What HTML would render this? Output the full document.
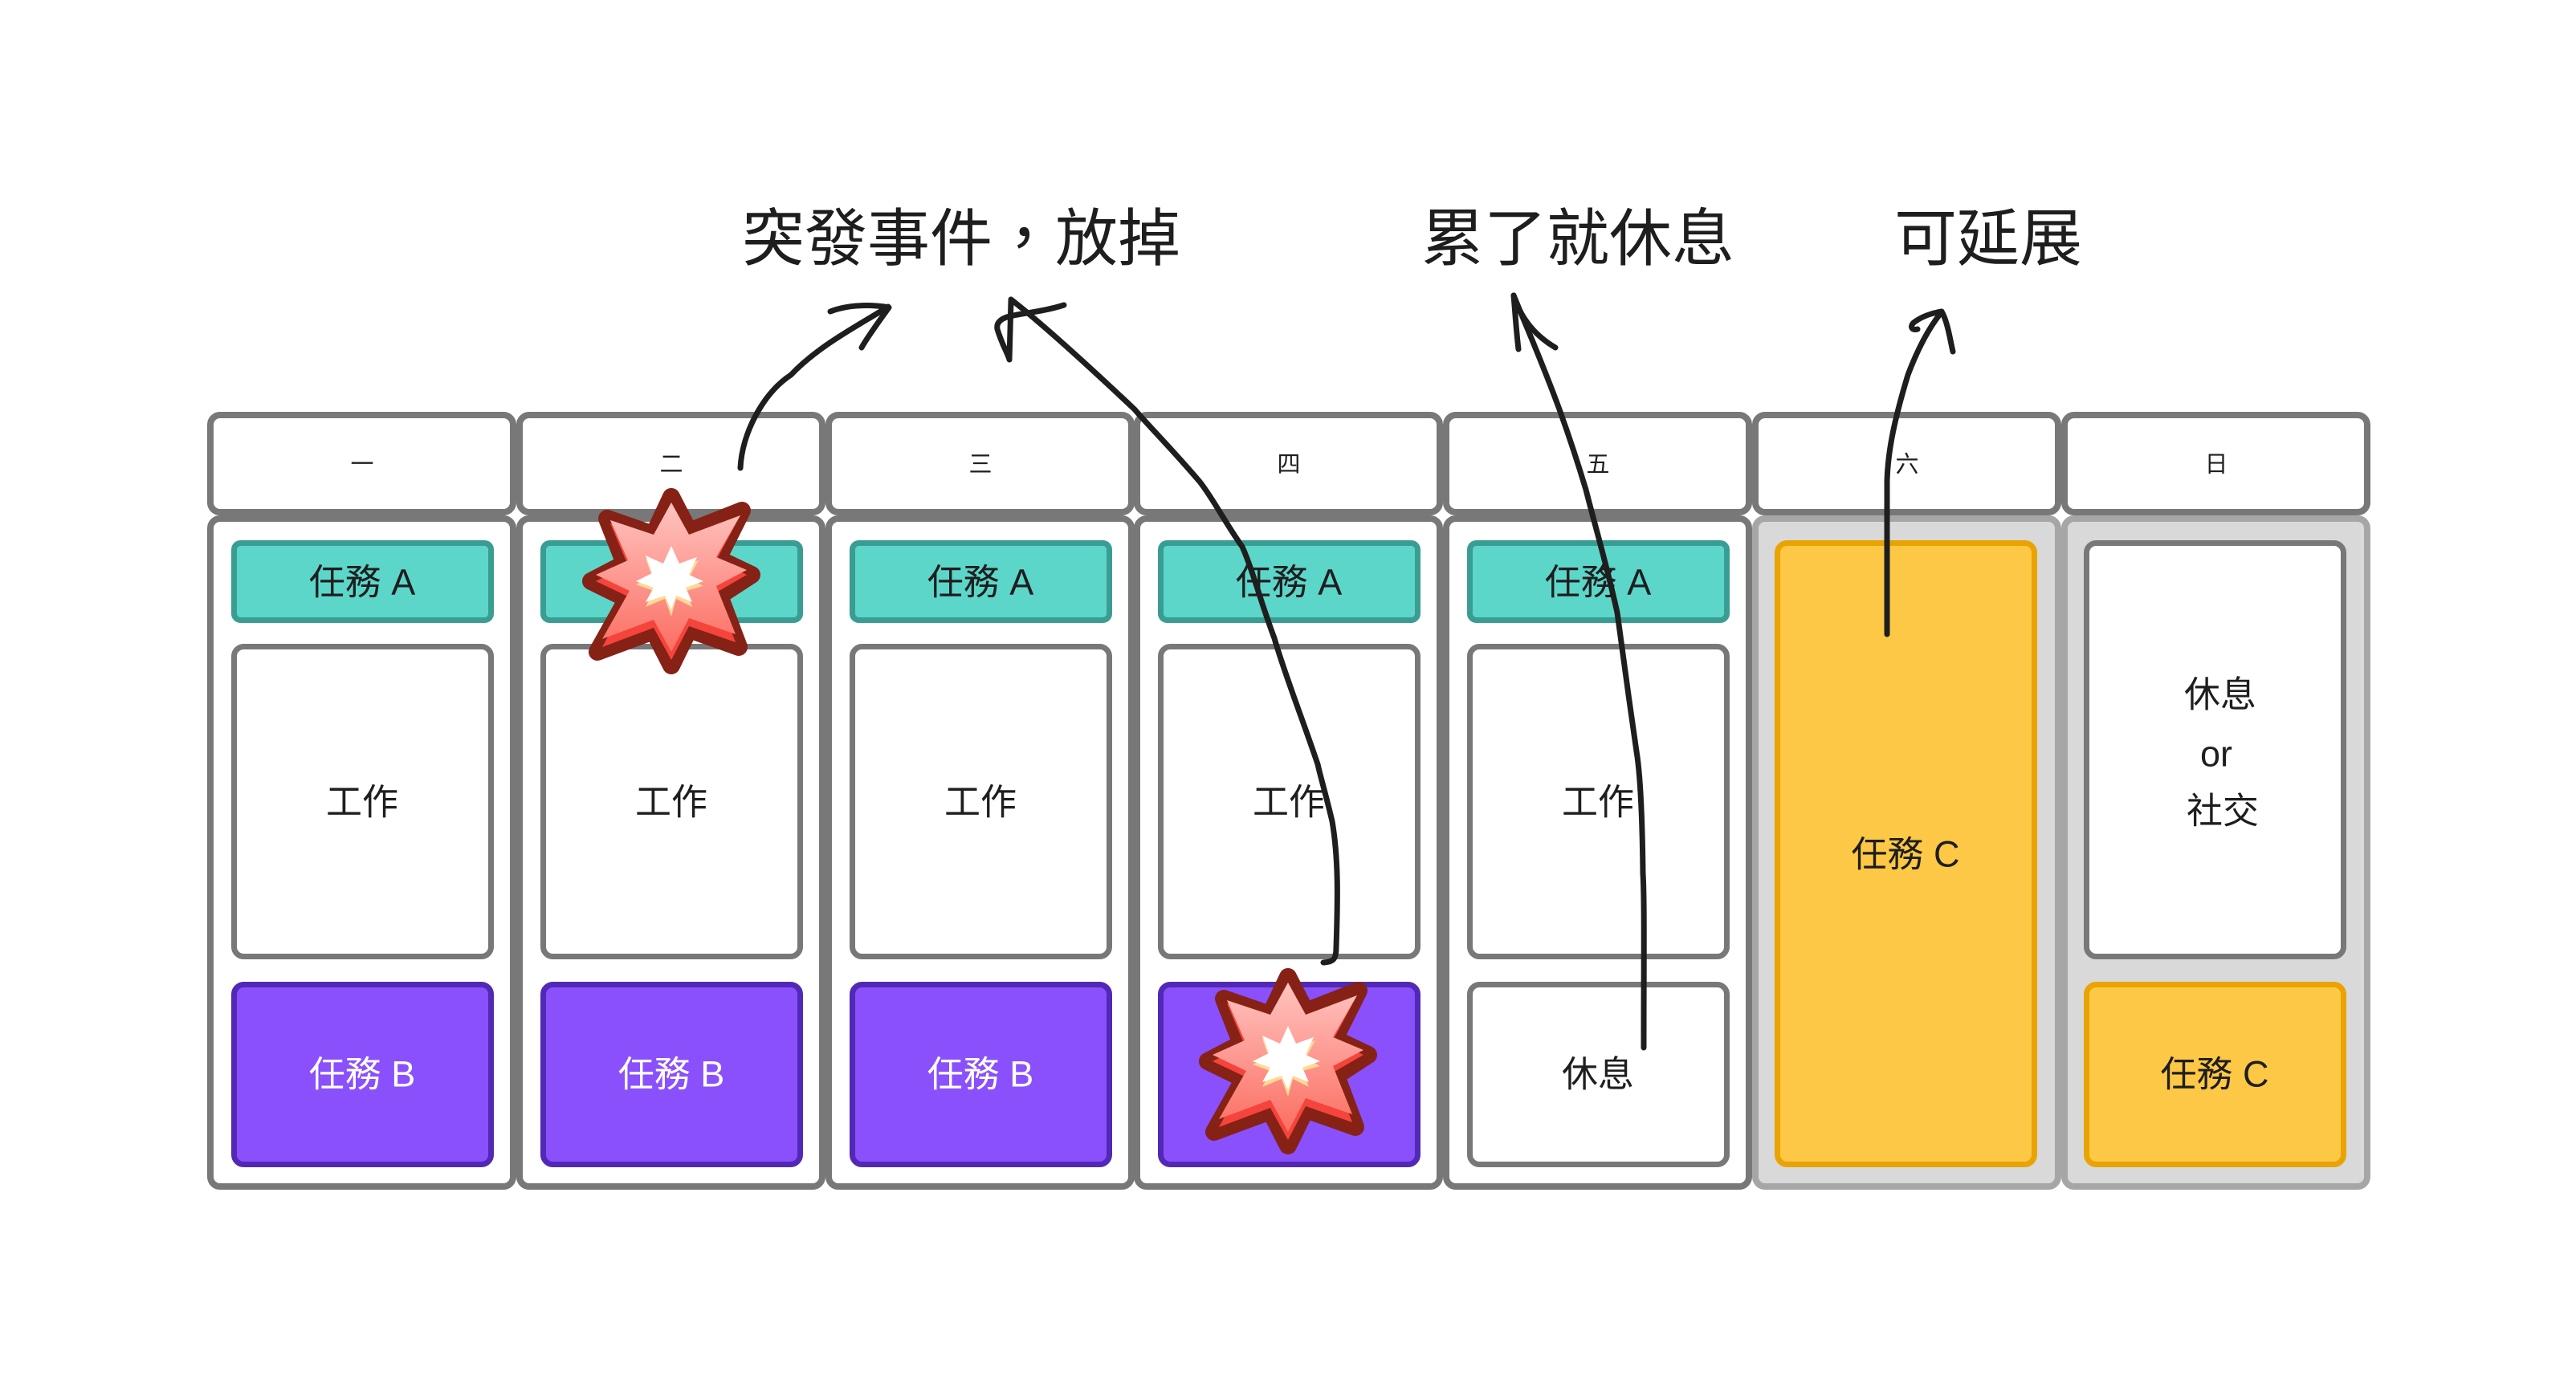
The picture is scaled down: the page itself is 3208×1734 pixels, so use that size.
<!DOCTYPE html>
<html><head><meta charset="utf-8"><style>
html,body{margin:0;padding:0;background:#fff;}
svg{display:block;}
text{font-family:"Liberation Sans","Noto Sans CJK TC",sans-serif;fill:#1e1e1e;}
</style></head><body>
<svg width="3208" height="1734" viewBox="0 0 3208 1734" xmlns="http://www.w3.org/2000/svg">
<defs>
<linearGradient id="bg" x1="0" y1="0" x2="0" y2="1"><stop offset="0" stop-color="#ffc4c0"/><stop offset="1" stop-color="#fb6e62"/></linearGradient>
<g id="boom">
<polygon points="0,-105 22,-62 88,-88 58,-28 100,-8 60,18 84,82 22,60 0,105 -22,62 -92,88 -55,22 -100,0 -58,-22 -80,-78 -22,-58" fill="#862116" stroke="#862116" stroke-width="22" stroke-linejoin="round"/>
<polygon points="0,-98 22,-58 86,-82 56,-26 94,-8 56,14 80,76 22,56 0,98 -22,58 -86,82 -52,20 -94,0 -54,-20 -76,-72 -22,-54" fill="#f5443c"/>
<polygon points="0,-98 22,-58 86,-82 56,-30 94,-14 56,6 80,66 22,46 0,88 -22,48 -86,72 -52,12 -94,-8 -54,-26 -76,-76 -22,-58" fill="url(#bg)"/>
<polygon points="0,-42 10,-18 34,-26 22,-4 40,6 18,12 26,32 6,22 0,44 -8,22 -32,32 -22,12 -44,4 -24,-6 -32,-28 -10,-18" fill="#ffd993"/>
<polygon points="0,-44 10,-22 32,-30 22,-8 40,0 18,8 26,26 6,18 0,36 -8,18 -32,26 -22,8 -44,0 -24,-10 -32,-32 -10,-22" fill="#fff"/>
</g>
</defs>

<!-- titles -->
<text x="1197" y="297" font-size="78" text-anchor="middle" dominant-baseline="central">突發事件，放掉</text>
<text x="1965" y="297" font-size="78" text-anchor="middle" dominant-baseline="central">累了就休息</text>
<text x="2476" y="297" font-size="78" text-anchor="middle" dominant-baseline="central">可延展</text>

<!-- columns -->
<g stroke-width="8">
<!-- headers -->
<g fill="#fff" stroke="#787878">
<rect x="262" y="517" width="377" height="121" rx="12"/>
<rect x="647" y="517" width="377" height="121" rx="12"/>
<rect x="1032" y="517" width="377" height="121" rx="12"/>
<rect x="1416" y="517" width="377" height="121" rx="12"/>
<rect x="1801" y="517" width="377" height="121" rx="12"/>
<rect x="2186" y="517" width="377" height="121" rx="12"/>
<rect x="2571" y="517" width="377" height="121" rx="12"/>
</g>
<g fill="#fff" stroke="#787878">
<rect x="262" y="646" width="377" height="832" rx="12"/>
<rect x="647" y="646" width="377" height="832" rx="12"/>
<rect x="1032" y="646" width="377" height="832" rx="12"/>
<rect x="1416" y="646" width="377" height="832" rx="12"/>
<rect x="1801" y="646" width="377" height="832" rx="12"/>
</g>
<g fill="#d9d9d9" stroke="#a6a6a6">
<rect x="2186" y="646" width="377" height="832" rx="12"/>
<rect x="2571" y="646" width="377" height="832" rx="12"/>
</g>
</g>

<g stroke-width="7">
<!-- Task A -->
<g fill="#5dd6ca" stroke="#3a9d93">
<rect x="291.5" y="676.5" width="320" height="96" rx="8"/>
<rect x="676.5" y="676.5" width="320" height="96" rx="8"/>
<rect x="1061.5" y="676.5" width="320" height="96" rx="8"/>
<rect x="1445.5" y="676.5" width="320" height="96" rx="8"/>
<rect x="1830.5" y="676.5" width="320" height="96" rx="8"/>
</g>
<!-- work -->
<g fill="#fff" stroke="#787878">
<rect x="291.5" y="805.5" width="320" height="386" rx="12"/>
<rect x="676.5" y="805.5" width="320" height="386" rx="12"/>
<rect x="1061.5" y="805.5" width="320" height="386" rx="12"/>
<rect x="1445.5" y="805.5" width="320" height="386" rx="12"/>
<rect x="1830.5" y="805.5" width="320" height="386" rx="12"/>
<rect x="1830.5" y="1226.5" width="320" height="224" rx="12"/>
<rect x="2598.5" y="676.5" width="320" height="515" rx="12"/>
</g>
<!-- Task B -->
<g fill="#8950fc" stroke="#5229b6">
<rect x="291.5" y="1226.5" width="320" height="224" rx="12"/>
<rect x="676.5" y="1226.5" width="320" height="224" rx="12"/>
<rect x="1061.5" y="1226.5" width="320" height="224" rx="12"/>
<rect x="1445.5" y="1226.5" width="320" height="224" rx="12"/>
</g>
<!-- Task C -->
<g fill="#fdc845" stroke="#e9a303">
<rect x="2213.5" y="676.5" width="320" height="774" rx="12"/>
<rect x="2598.5" y="1226.5" width="320" height="224" rx="12"/>
</g>
</g>

<!-- header labels -->
<g font-size="29" text-anchor="middle" dominant-baseline="central">
<text x="451" y="579">一</text><text x="836" y="579">二</text><text x="1221" y="579">三</text>
<text x="1605" y="579">四</text><text x="1990" y="579">五</text><text x="2375" y="579">六</text><text x="2760" y="579">日</text>
</g>
<!-- box labels -->
<g font-size="45" text-anchor="middle" dominant-baseline="central">
<text x="451" y="725">任務 A</text><text x="836" y="725">任務 A</text><text x="1221" y="725">任務 A</text><text x="1605" y="725">任務 A</text><text x="1990" y="725">任務 A</text>
<text x="451" y="999">工作</text><text x="836" y="999">工作</text><text x="1221" y="999">工作</text><text x="1605" y="999">工作</text><text x="1990" y="999">工作</text>
<text x="451" y="1338" style="fill:#fff">任務 B</text><text x="836" y="1338" style="fill:#fff">任務 B</text><text x="1221" y="1338" style="fill:#fff">任務 B</text><text x="1605" y="1338" style="fill:#fff">任務 B</text>
<text x="1990" y="1338">休息</text>
<text x="2373" y="1064">任務 C</text>
<text x="2758" y="1338">任務 C</text>
<text x="2765" y="865">休息</text>
<text x="2760" y="939">or</text>
<text x="2768" y="1010">社交</text>
</g>

<!-- explosions -->
<use href="#boom" transform="translate(836,724)"/>
<use href="#boom" transform="translate(1604,1322)"/>

<!-- arrows -->
<g fill="none" stroke="#1e1e1e" stroke-width="7" stroke-linecap="round" stroke-linejoin="round">
<path d="M922,583 C924,540 950,490 985,467 C1020,430 1070,405 1106,382"/>
<path d="M1034,388 C1060,378 1090,380 1107,383 C1095,400 1080,420 1073,433"/>
<path d="M1648,1199 C1660,1198 1664,1196 1664,1180 C1666,1120 1667,1070 1659,1023 C1650,985 1645,970 1641,952 C1620,890 1600,840 1587,795 C1570,750 1560,710 1547,681 C1525,650 1510,620 1494,600 C1460,560 1430,530 1413,510 C1360,460 1300,405 1259,373"/>
<path d="M1325,380 C1300,388 1275,390 1262,393 C1250,395 1240,400 1242,410 C1248,430 1255,440 1257,448 L1259,375"/>
<path d="M2047,1305 C2047,1200 2048,1120 2046,1088 C2045,1000 2042,960 2038,936 C2030,880 2020,810 2014,763 C2000,700 1985,650 1975,610 C1960,560 1942,510 1942,510 C1920,450 1898,400 1885,368"/>
<path d="M1891,435 C1888,410 1887,390 1885,368 C1895,400 1915,420 1937,433"/>
<path d="M2350,790 L2350,600 C2351,560 2360,520 2376,467 C2390,430 2405,405 2417,390"/>
<path d="M2432,438 C2428,420 2425,400 2418,388 C2405,390 2392,395 2383,402 C2378,407 2381,412 2388,410"/>
</g>
</svg>
</body></html>
